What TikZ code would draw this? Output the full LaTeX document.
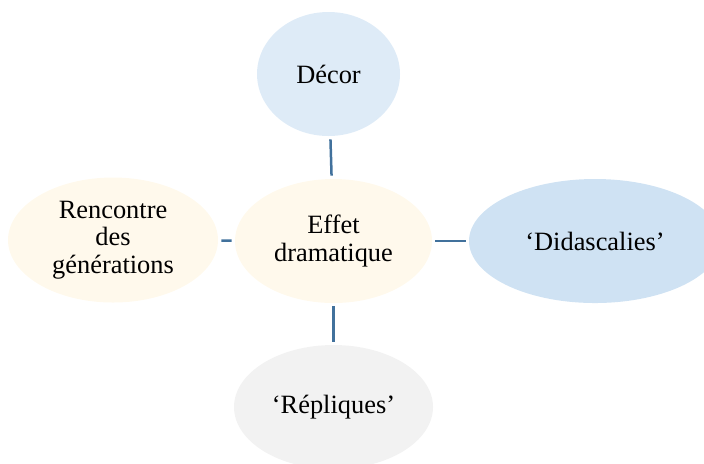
\documentclass[tikz,border=0pt]{standalone}
\usepackage{fontspec}
\setmainfont{Liberation Serif}
\usetikzlibrary{shapes.geometric}
\definecolor{linkblue}{RGB}{65, 113, 156}
\definecolor{decorblue}{RGB}{222, 235, 247}
\definecolor{didasblue}{RGB}{207, 226, 243}
\definecolor{creamfill}{RGB}{255, 249, 236}
\definecolor{greyfill}{RGB}{242, 242, 242}
\tikzset{
    bubble/.style={ellipse, draw=none, inner sep=0pt, align=center,
        font=\fontsize{13.2}{13.8}\selectfont},
    link/.style={draw=linkblue, line width=1.25pt, shorten <=1.5pt, shorten >=1.5pt}
}

\begin{document}
\begin{tikzpicture}[x=0.5pt, y=-0.5pt]
    \useasboundingbox (0,0) rectangle (704,463);
    \node[bubble, fill=creamfill, minimum width=98.5pt, minimum height=62pt] (effet) at (333.5,241) {Effet\\dramatique};
    \node[bubble, fill=decorblue, minimum width=71.5pt, minimum height=62pt] (decor) at (328.5,74) {Décor};
    \node[bubble, fill=creamfill, minimum width=105pt, minimum height=62.5pt] (rencontre) at (113,240) {Rencontre\\des\\générations};
    \node[bubble, fill=didasblue, minimum width=126pt, minimum height=62pt] (didas) at (595,241) {‘Didascalies’};
    \node[bubble, fill=greyfill, minimum width=99.5pt, minimum height=62pt] (repliques) at (333.5,407) {‘Répliques’};
    % connectors
    \draw[link] (decor) -- (effet);
    \draw[link] (rencontre) -- (effet);
    \draw[link] (effet) -- (didas);
    \draw[link] (effet) -- (repliques);
\end{tikzpicture}
\end{document}
